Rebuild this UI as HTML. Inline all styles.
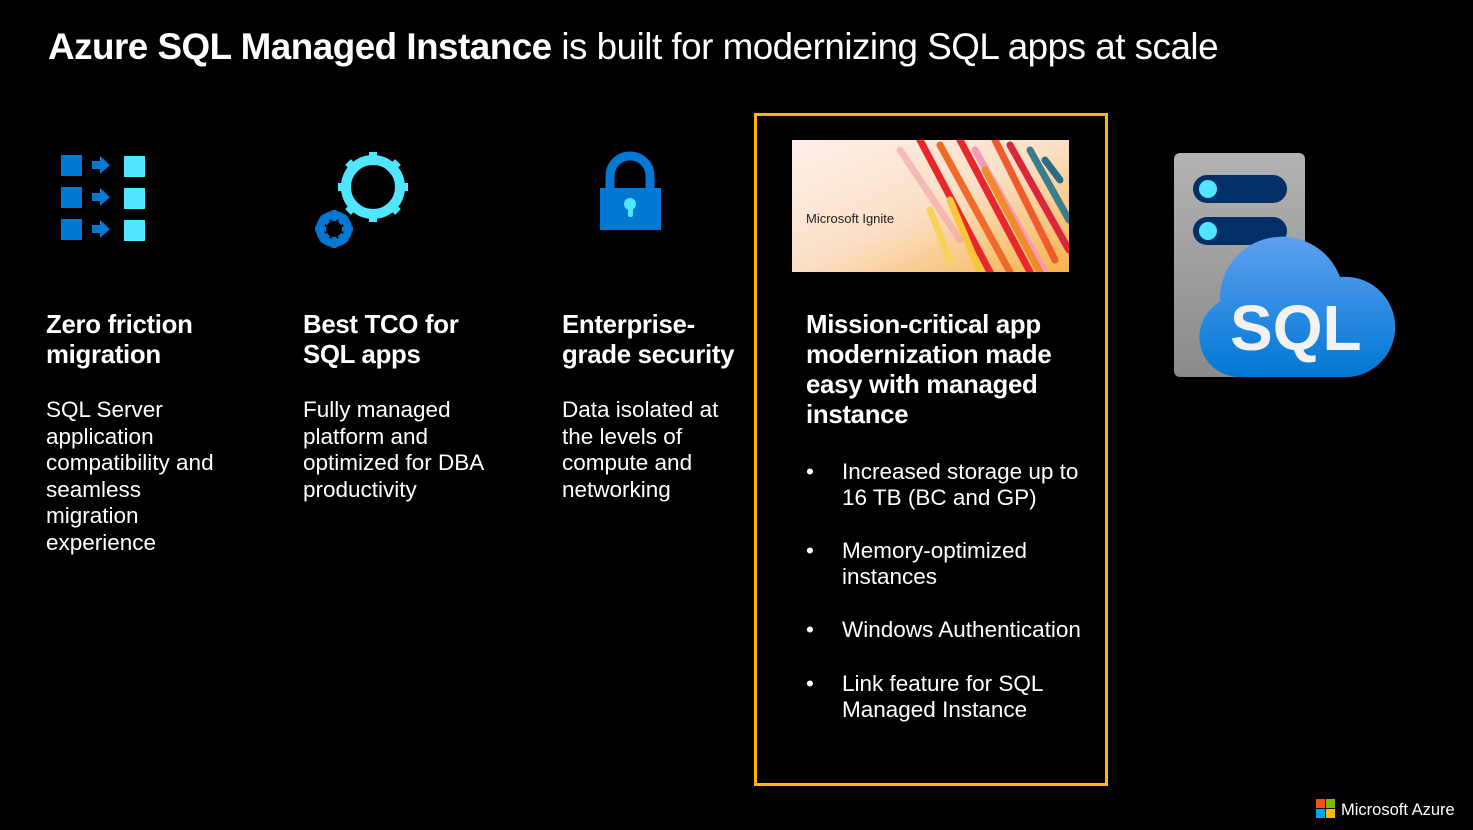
<!DOCTYPE html>
<html><head><meta charset="utf-8"><style>
body{margin:0;width:1473px;height:830px;background:#000;overflow:hidden;position:relative;font-family:"Liberation Sans",sans-serif;color:#fff}
.a{position:absolute}
h1{position:absolute;left:48px;top:26px;margin:0;font-size:36.8px;font-weight:normal;letter-spacing:-0.5px;white-space:nowrap}
.h{position:absolute;font-size:25.8px;font-weight:bold;line-height:30px;letter-spacing:-0.3px;white-space:nowrap}
.t{position:absolute;font-size:22.5px;line-height:26.5px;white-space:nowrap}
.box{position:absolute;left:754px;top:113px;width:348px;height:667px;border:3px solid #FFB900}
ul{margin:0;padding:0}
li{position:absolute;left:806px;font-size:22.5px;line-height:26px;list-style:none}
li span{position:absolute;left:36px;white-space:nowrap}
</style></head><body>
<h1><b>Azure SQL Managed Instance</b> is built for modernizing SQL apps at scale</h1>

<svg class="a" style="left:0;top:0" width="1473" height="830">
 <g fill="#0078D4"><rect x="61" y="155" width="21" height="21"/><rect x="61" y="187" width="21" height="21"/><rect x="61" y="219" width="21" height="21"/></g>
 <g fill="#50E6FF"><rect x="124" y="156" width="21" height="21"/><rect x="124" y="188" width="21" height="21"/><rect x="124" y="220" width="21" height="21"/></g>
 <g fill="#0078D4"><path d="M92 161h8v-5l10 9-10 9v-5h-8z"/><path d="M92 193h8v-5l10 9-10 9v-5h-8z"/><path d="M92 225h8v-5l10 9-10 9v-5h-8z"/></g>
 <circle cx="373" cy="187" r="27" fill="none" stroke="#50E6FF" stroke-width="10"/>
 <g stroke="#50E6FF" stroke-width="8"><line x1="373" y1="152" x2="373" y2="222"/><line x1="338" y1="187" x2="408" y2="187"/><line x1="348" y1="162" x2="398" y2="212"/><line x1="398" y1="162" x2="348" y2="212"/></g>
 <circle cx="373" cy="187" r="22" fill="#000"/>
 <circle cx="334" cy="229" r="14" fill="none" stroke="#0078D4" stroke-width="8"/>
 <g stroke="#0078D4" stroke-width="5"><line x1="334" y1="210" x2="334" y2="248"/><line x1="315" y1="229" x2="353" y2="229"/><line x1="321" y1="216" x2="347" y2="242"/><line x1="347" y1="216" x2="321" y2="242"/></g>
 <circle cx="334" cy="229" r="8" fill="#000"/>
 <path d="M610 190v-14a20 20 0 0 1 40 0v14" fill="none" stroke="#0078D4" stroke-width="9"/>
 <rect x="600" y="188" width="61" height="42" fill="#0078D4"/>
 <circle cx="630" cy="204" r="6" fill="#50E6FF"/><rect x="628" y="205" width="5" height="12" rx="2" fill="#50E6FF"/>
 <defs><linearGradient id="ig" x1="0" x2="1" y1="0" y2="1"><stop offset="0" stop-color="#fdf0ea"/><stop offset="0.5" stop-color="#fbe0c6"/><stop offset="1" stop-color="#f6b24a"/></linearGradient>
 <linearGradient id="cl" x1="0" x2="0" y1="0" y2="1"><stop offset="0" stop-color="#5ea0ef"/><stop offset="1" stop-color="#0078D4"/></linearGradient>
 <linearGradient id="sv" x1="0" x2="0" y1="0" y2="1"><stop offset="0" stop-color="#b3b3b3"/><stop offset="1" stop-color="#8a8a8a"/></linearGradient>
 <clipPath id="c"><rect x="792" y="140" width="277" height="132"/></clipPath></defs>
 <rect x="792" y="140" width="277" height="132" fill="url(#ig)"/>
 <g clip-path="url(#c)" stroke-linecap="round" stroke-width="7">
  <line x1="920" y1="140" x2="990" y2="272" stroke="#e8262b"/><line x1="940" y1="145" x2="1010" y2="272" stroke="#f06a2a"/>
  <line x1="960" y1="140" x2="1030" y2="272" stroke="#e8262b"/><line x1="975" y1="150" x2="1045" y2="272" stroke="#f59ab8"/>
  <line x1="995" y1="140" x2="1055" y2="260" stroke="#ef5b2b"/><line x1="1010" y1="145" x2="1069" y2="250" stroke="#d9263c"/>
  <line x1="1030" y1="150" x2="1069" y2="220" stroke="#3a7d8c"/><line x1="950" y1="200" x2="980" y2="272" stroke="#f9c63a"/>
  <line x1="900" y1="150" x2="960" y2="240" stroke="#f3a0a8" opacity=".6"/><line x1="1045" y1="160" x2="1060" y2="180" stroke="#2b6c87"/>
  <line x1="930" y1="210" x2="950" y2="260" stroke="#f6d45a"/><line x1="985" y1="170" x2="1040" y2="272" stroke="#f08a2a"/>
 </g>
 <text x="806" y="223" font-size="13" fill="#222" font-family="Liberation Sans">Microsoft Ignite</text>
 <rect x="1174" y="153" width="131" height="224" rx="6" fill="url(#sv)"/>
 <rect x="1193" y="175" width="94" height="28" rx="14" fill="#003067"/><circle cx="1208" cy="189" r="9" fill="#50E6FF"/>
 <rect x="1193" y="217" width="94" height="28" rx="14" fill="#003067"/><circle cx="1208" cy="231" r="9" fill="#50E6FF"/>
 <path d="M1240 377a40 40 0 0 1-20-75a62 62 0 0 1 120-25a48 48 0 0 1 10 100z" fill="url(#cl)"/>
 <text x="1230" y="350" font-size="64" font-weight="bold" fill="#f2f2f2" font-family="Liberation Sans">SQL</text>
 <rect x="1316" y="799" width="9" height="9" fill="#F25022"/><rect x="1326" y="799" width="9" height="9" fill="#7FBA00"/>
 <rect x="1316" y="809" width="9" height="9" fill="#00A4EF"/><rect x="1326" y="809" width="9" height="9" fill="#FFB900"/>
 <text x="1341" y="815" font-size="16.5" fill="#fff" font-family="Liberation Sans">Microsoft Azure</text>
</svg>

<div class="h" style="left:46px;top:310px">Zero friction<br>migration</div>
<div class="t" style="left:46px;top:397px">SQL Server<br>application<br>compatibility and<br>seamless<br>migration<br>experience</div>
<div class="h" style="left:303px;top:310px">Best TCO for<br>SQL apps</div>
<div class="t" style="left:303px;top:397px">Fully managed<br>platform and<br>optimized for DBA<br>productivity</div>
<div class="h" style="left:562px;top:310px">Enterprise-<br>grade security</div>
<div class="t" style="left:562px;top:397px">Data isolated at<br>the levels of<br>compute and<br>networking</div>

<div class="box"></div>
<div class="h" style="left:806px;top:310px">Mission-critical app<br>modernization made<br>easy with managed<br>instance</div>
<ul>
<li style="top:459px">•<span>Increased storage up to<br>16 TB (BC and GP)</span></li>
<li style="top:538px">•<span>Memory-optimized<br>instances</span></li>
<li style="top:617px">•<span>Windows Authentication</span></li>
<li style="top:671px">•<span>Link feature for SQL<br>Managed Instance</span></li>
</ul>
</body></html>
